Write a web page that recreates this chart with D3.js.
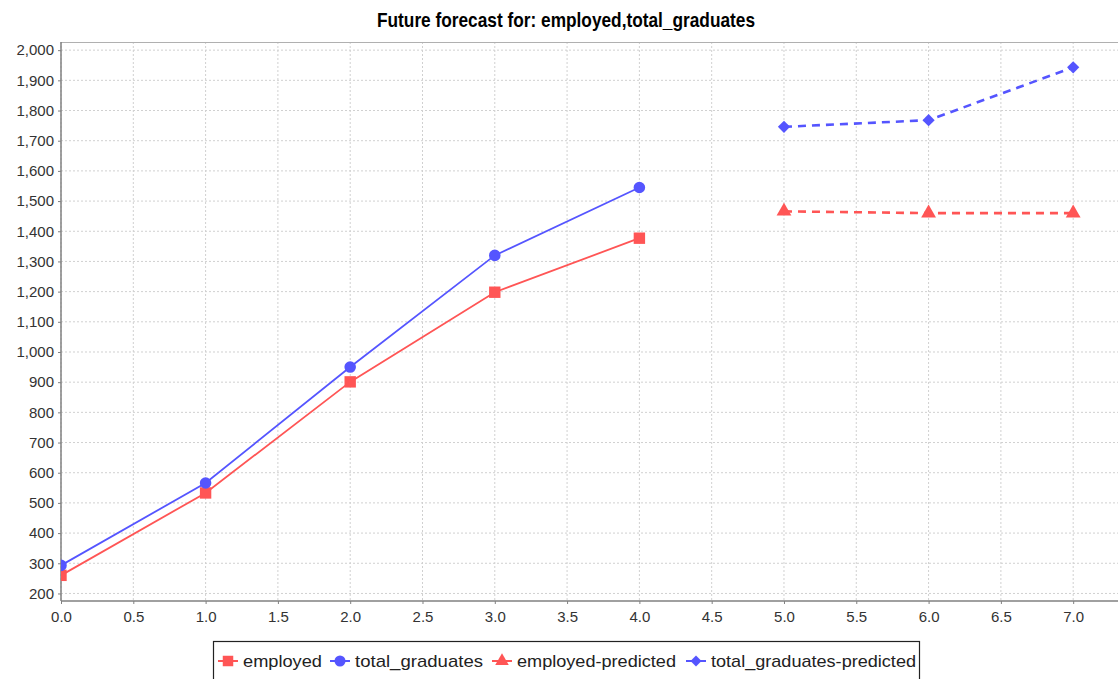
<!DOCTYPE html>
<html>
<head>
<meta charset="utf-8">
<script src="https://cdn.jsdelivr.net/npm/d3@7"></script>
<style>
  body { margin: 0; background: #fff; }
  svg { display: block; }
</style>
</head>
<body>
<svg id="chart"></svg>
<script>
// Chart size
const width = 1120;
const height = 679;

// Data
const xObserved = [0, 1, 2, 3, 4];
const employed = [260, 533, 901, 1198, 1377];
const totalGraduates = [293, 566, 950, 1320, 1545];
const xPredicted = [5, 6, 7];
const employedPredicted = [1466, 1460, 1460];
const totalGraduatesPredicted = [1746, 1768, 1943];
const xTicks = [0, 0.5, 1, 1.5, 2, 2.5, 3, 3.5, 4, 4.5, 5, 5.5, 6, 6.5, 7];
const yTicks = [200, 300, 400, 500, 600, 700, 800, 900, 1000, 1100, 1200, 1300, 1400, 1500, 1600, 1700, 1800, 1900, 2000];
const titleText = "Future forecast for: employed,total_graduates";

const red = "#ff5555";
const blue = "#5555ff";

// Series definitions built from the arrays above
const series = [
    { name: "employed", xs: xObserved, ys: employed, color: red, shape: "square", dashed: false },
    { name: "total_graduates", xs: xObserved, ys: totalGraduates, color: blue, shape: "circle", dashed: false },
    { name: "employed-predicted", xs: xPredicted, ys: employedPredicted, color: red, shape: "triangle", dashed: true },
    { name: "total_graduates-predicted", xs: xPredicted, ys: totalGraduatesPredicted, color: blue, shape: "diamond", dashed: true }
];

// Plot area
const margin = { top: 42, right: 2, bottom: 78, left: 61 };
const plotW = width - margin.left - margin.right;
const plotH = height - margin.top - margin.bottom;

const svg = d3.select("#chart")
    .attr("width", width)
    .attr("height", height)
    .style("font-family", "'Liberation Sans', Arial, sans-serif");

const x = d3.scaleLinear().domain([0, 7.31]).range([0, plotW]);
const y = d3.scaleLinear().domain([175, 2027]).range([plotH, 0]);

// Title
svg.append("text")
    .attr("x", 566)
    .attr("y", 27)
    .attr("text-anchor", "middle")
    .style("font-family", "'Liberation Sans Narrow', 'Liberation Sans', Arial, sans-serif")
    .style("font-weight", "bold")
    .style("font-size", "21px")
    .attr("textLength", 378)
    .attr("lengthAdjust", "spacingAndGlyphs")
    .attr("fill", "#000")
    .text(titleText);

const g = svg.append("g").attr("transform", `translate(${margin.left},${margin.top})`);

// Gridlines
g.append("g").selectAll("line")
    .data(yTicks)
    .join("line")
    .attr("x1", 0).attr("x2", plotW)
    .attr("y1", d => y(d)).attr("y2", d => y(d))
    .attr("stroke", "#d0d0d0")
    .attr("stroke-dasharray", "2,2");

g.append("g").selectAll("line")
    .data(xTicks)
    .join("line")
    .attr("x1", d => x(d)).attr("x2", d => x(d))
    .attr("y1", 0).attr("y2", plotH)
    .attr("stroke", "#d0d0d0")
    .attr("stroke-dasharray", "2,2");

// Plot outline (top)
g.append("line")
    .attr("x1", 0).attr("x2", plotW)
    .attr("y1", 0.5).attr("y2", 0.5)
    .attr("stroke", "#b0b0b0");

// Axes
const yAxis = g.append("g")
    .call(d3.axisLeft(y).tickValues(yTicks).tickSize(3).tickPadding(4)
        .tickFormat(d3.format(",")));
const xAxis = g.append("g")
    .attr("transform", `translate(0,${plotH})`)
    .call(d3.axisBottom(x).tickValues(xTicks).tickSize(3).tickPadding(4)
        .tickFormat(d3.format(".1f")));

[yAxis, xAxis].forEach(ax => {
    ax.select(".domain").attr("stroke", "#808080").attr("stroke-width", 1.5);
    ax.selectAll(".tick line").attr("stroke", "#808080");
    ax.selectAll(".tick text")
        .style("font-family", "'Liberation Sans', Arial, sans-serif")
        .style("font-size", "15px")
        .attr("fill", "#333");
});
xAxis.select(".domain").attr("d", `M0,0H${plotW}`);
yAxis.select(".domain").attr("d", `M0,0V${plotH}`);
xAxis.selectAll(".tick text").attr("dy", "0.9em");

// Marker symbols (diamond = square turned 45 degrees)
const symbolFor = {
    square: { gen: d3.symbol().type(d3.symbolSquare).size(130), rot: 0 },
    circle: { gen: d3.symbol().type(d3.symbolCircle).size(105), rot: 0 },
    triangle: { gen: d3.symbol().type(d3.symbolTriangle).size(95), rot: 0 },
    diamond: { gen: d3.symbol().type(d3.symbolSquare).size(75), rot: 45 }
};

const line = d3.line();

svg.append("clipPath").attr("id", "plotclip")
    .append("rect").attr("x", 0).attr("y", 0).attr("width", plotW).attr("height", plotH);

const plot = g.append("g").attr("clip-path", "url(#plotclip)");

series.forEach(s => {
    const pts = s.xs.map((xv, i) => [x(xv), y(s.ys[i])]);
    const sym = symbolFor[s.shape];
    plot.append("path")
        .attr("d", line(pts))
        .attr("fill", "none")
        .attr("stroke", s.color)
        .attr("stroke-width", s.dashed ? 2.6 : 1.8)
        .attr("stroke-dasharray", s.dashed ? "8,6" : null);
    plot.selectAll(null)
        .data(pts)
        .join("path")
        .attr("transform", d => `translate(${d[0]},${d[1]}) rotate(${sym.rot})`)
        .attr("d", sym.gen())
        .attr("fill", s.color);
});

// Legend
const legend = svg.append("g").attr("transform", "translate(213,641)");
const legendItemsX = [0, 112, 274, 468];
const legendW = 706;
legend.append("rect")
    .attr("x", 0.5).attr("y", 0.5)
    .attr("width", legendW).attr("height", 50)
    .attr("fill", "#fff")
    .attr("stroke", "#222")
    .attr("stroke-width", 1.2);

const legendSymbols = {
    square: { gen: d3.symbol().type(d3.symbolSquare).size(110), rot: 0 },
    circle: { gen: d3.symbol().type(d3.symbolCircle).size(95), rot: 0 },
    triangle: { gen: d3.symbol().type(d3.symbolTriangle).size(80), rot: 0 },
    diamond: { gen: d3.symbol().type(d3.symbolSquare).size(60), rot: 45 }
};

const legendTextLen = [79, 128, 159, 205];

series.forEach((s, i) => {
    const sym = legendSymbols[s.shape];
    const item = legend.append("g").attr("transform", `translate(${legendItemsX[i] + 5},20)`);
    item.append("line")
        .attr("x1", 0).attr("x2", 20)
        .attr("y1", 0).attr("y2", 0)
        .attr("stroke", s.color)
        .attr("stroke-width", 2);
    item.append("path")
        .attr("transform", `translate(10,0) rotate(${sym.rot})`)
        .attr("d", sym.gen())
        .attr("fill", s.color);
    item.append("text")
        .attr("x", 25)
        .attr("y", 6)
        .style("font-size", "17px")
        .attr("textLength", legendTextLen[i])
        .attr("lengthAdjust", "spacingAndGlyphs")
        .attr("fill", "#222")
        .text(s.name);
});
</script>
</body>
</html>
